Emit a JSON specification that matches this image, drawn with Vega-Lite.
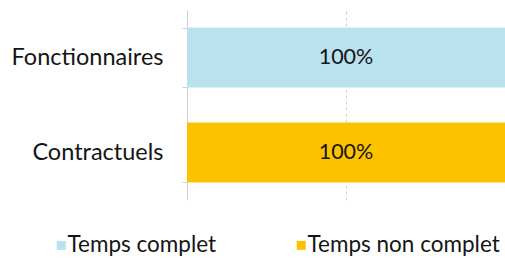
{
  "$schema": "https://vega.github.io/schema/vega-lite/v6.json",
  "width": 318,
  "height": 190,
  "autosize": {"type": "none"},
  "padding": {"left": 187, "top": 10, "right": 0, "bottom": 60},
  "background": "white",
  "config": {"view": {"stroke": null}, "font": "Lato"},
  "data": {"values": [
    {"cat": "Fonctionnaires", "type": "Temps complet", "v": 1},
    {"cat": "Contractuels", "type": "Temps non complet", "v": 1}
  ]},
  "encoding": {
    "y": {"field": "cat", "type": "nominal", "sort": ["Fonctionnaires", "Contractuels"],
      "scale": {"paddingInner": 0.37, "paddingOuter": 0.185},
      "axis": {"title": null, "tickBand": "extent", "tickSize": 5, "tickColor": "#cfcfcf", "domainColor": "#cfcfcf",
        "labelPadding": 19, "labelFontSize": 23.5, "labelColor": "#151515", "labelFont": "Lato", "labelLimit": 300}}
  },
  "layer": [
    {
      "mark": {"type": "bar"},
      "encoding": {
        "x": {"field": "v", "type": "quantitative", "stack": "zero", "scale": {"domain": [0, 1]},
          "axis": {"values": [0.5], "labels": false, "ticks": false, "domain": false, "title": null,
            "grid": true, "gridDash": [3, 3], "gridColor": "#d0d0d0"}},
        "color": {"field": "type", "type": "nominal",
          "scale": {"domain": ["Temps complet", "Temps non complet"], "range": ["#b9e2ee", "#fcc200"]},
          "legend": {"title": null, "orient": "none", "direction": "horizontal", "legendX": -137, "legendY": 224,
            "symbolType": "square", "symbolSize": 81, "symbolStrokeWidth": 0, "labelFontSize": 22.5, "labelColor": "#151515",
            "labelFont": "Lato", "columnPadding": 73, "labelOffset": -5, "labelLimit": 300}}
      }
    },
    {
      "transform": [
        {"stack": "v", "groupby": ["cat"], "sort": [{"field": "type"}], "as": ["v0", "v1"]},
        {"fold": ["v0", "v1"], "as": ["k", "pos"]},
        {"aggregate": [{"op": "mean", "field": "pos", "as": "mid"}], "groupby": ["cat", "type", "v"]}
      ],
      "mark": {"type": "text", "fontSize": 21.5, "color": "#151515", "font": "Lato"},
      "encoding": {
        "x": {"field": "mid", "type": "quantitative"},
        "text": {"field": "v", "type": "quantitative", "format": ".0%"}
      }
    }
  ]
}
